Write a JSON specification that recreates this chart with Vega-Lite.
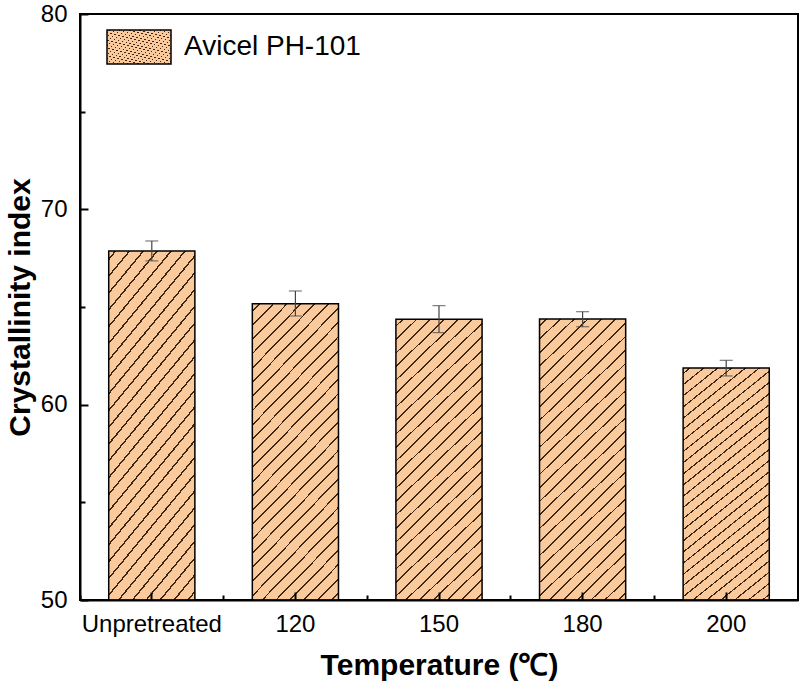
{
  "$schema": "https://vega.github.io/schema/vega-lite/v6.json",
  "autosize": {"type": "none"},
  "width": 718,
  "height": 586,
  "padding": {"left": 80, "top": 14, "right": 6, "bottom": 87},
  "background": "white",
  "config": {
    "view": {"stroke": "black", "strokeWidth": 2},
    "font": "Liberation Sans",
    "axis": {"domainColor": "black", "domainWidth": 2, "tickColor": "black", "tickWidth": 2, "labelColor": "black", "titleColor": "black", "grid": false, "labelFont": "Liberation Sans", "titleFont": "Liberation Sans"}
  },
  "data": {
    "values": [
      {"temp": "Unpretreated", "ci": 67.87, "lo": 67.36, "hi": 68.38, "series": "Avicel PH-101"},
      {"temp": "120", "ci": 65.16, "lo": 64.54, "hi": 65.82, "series": "Avicel PH-101"},
      {"temp": "150", "ci": 64.37, "lo": 63.69, "hi": 65.07, "series": "Avicel PH-101"},
      {"temp": "180", "ci": 64.39, "lo": 63.99, "hi": 64.76, "series": "Avicel PH-101"},
      {"temp": "200", "ci": 61.88, "lo": 61.47, "hi": 62.27, "series": "Avicel PH-101"}
    ]
  },
  "resolve": {"axis": {"x": "independent", "y": "independent"}},
  "layer": [
    {
      "mark": {"type": "bar", "strokeWidth": 1.5, "fillOpacity": 1,
        "fill": {"gradient": "linear", "x1": 0, "y1": 0, "x2": 0.356, "y2": 1.1923, "stops": [
              {"offset": 0, "color": "#FAC99C"},
              {"offset": 0.0160, "color": "#FAC99C"}, {"offset": 0.0160, "color": "#3b2613"}, {"offset": 0.0210, "color": "#3b2613"}, {"offset": 0.0210, "color": "#FAC99C"},
              {"offset": 0.0531, "color": "#FAC99C"}, {"offset": 0.0531, "color": "#3b2613"}, {"offset": 0.0581, "color": "#3b2613"}, {"offset": 0.0581, "color": "#FAC99C"},
              {"offset": 0.0901, "color": "#FAC99C"}, {"offset": 0.0901, "color": "#3b2613"}, {"offset": 0.0951, "color": "#3b2613"}, {"offset": 0.0951, "color": "#FAC99C"},
              {"offset": 0.1271, "color": "#FAC99C"}, {"offset": 0.1271, "color": "#3b2613"}, {"offset": 0.1321, "color": "#3b2613"}, {"offset": 0.1321, "color": "#FAC99C"},
              {"offset": 0.1642, "color": "#FAC99C"}, {"offset": 0.1642, "color": "#3b2613"}, {"offset": 0.1692, "color": "#3b2613"}, {"offset": 0.1692, "color": "#FAC99C"},
              {"offset": 0.2012, "color": "#FAC99C"}, {"offset": 0.2012, "color": "#3b2613"}, {"offset": 0.2062, "color": "#3b2613"}, {"offset": 0.2062, "color": "#FAC99C"},
              {"offset": 0.2382, "color": "#FAC99C"}, {"offset": 0.2382, "color": "#3b2613"}, {"offset": 0.2432, "color": "#3b2613"}, {"offset": 0.2432, "color": "#FAC99C"},
              {"offset": 0.2753, "color": "#FAC99C"}, {"offset": 0.2753, "color": "#3b2613"}, {"offset": 0.2803, "color": "#3b2613"}, {"offset": 0.2803, "color": "#FAC99C"},
              {"offset": 0.3123, "color": "#FAC99C"}, {"offset": 0.3123, "color": "#3b2613"}, {"offset": 0.3173, "color": "#3b2613"}, {"offset": 0.3173, "color": "#FAC99C"},
              {"offset": 0.3494, "color": "#FAC99C"}, {"offset": 0.3494, "color": "#3b2613"}, {"offset": 0.3544, "color": "#3b2613"}, {"offset": 0.3544, "color": "#FAC99C"},
              {"offset": 0.3864, "color": "#FAC99C"}, {"offset": 0.3864, "color": "#3b2613"}, {"offset": 0.3914, "color": "#3b2613"}, {"offset": 0.3914, "color": "#FAC99C"},
              {"offset": 0.4234, "color": "#FAC99C"}, {"offset": 0.4234, "color": "#3b2613"}, {"offset": 0.4284, "color": "#3b2613"}, {"offset": 0.4284, "color": "#FAC99C"},
              {"offset": 0.4605, "color": "#FAC99C"}, {"offset": 0.4605, "color": "#3b2613"}, {"offset": 0.4655, "color": "#3b2613"}, {"offset": 0.4655, "color": "#FAC99C"},
              {"offset": 0.4975, "color": "#FAC99C"}, {"offset": 0.4975, "color": "#3b2613"}, {"offset": 0.5025, "color": "#3b2613"}, {"offset": 0.5025, "color": "#FAC99C"},
              {"offset": 0.5345, "color": "#FAC99C"}, {"offset": 0.5345, "color": "#3b2613"}, {"offset": 0.5395, "color": "#3b2613"}, {"offset": 0.5395, "color": "#FAC99C"},
              {"offset": 0.5716, "color": "#FAC99C"}, {"offset": 0.5716, "color": "#3b2613"}, {"offset": 0.5766, "color": "#3b2613"}, {"offset": 0.5766, "color": "#FAC99C"},
              {"offset": 0.6086, "color": "#FAC99C"}, {"offset": 0.6086, "color": "#3b2613"}, {"offset": 0.6136, "color": "#3b2613"}, {"offset": 0.6136, "color": "#FAC99C"},
              {"offset": 0.6456, "color": "#FAC99C"}, {"offset": 0.6456, "color": "#3b2613"}, {"offset": 0.6506, "color": "#3b2613"}, {"offset": 0.6506, "color": "#FAC99C"},
              {"offset": 0.6827, "color": "#FAC99C"}, {"offset": 0.6827, "color": "#3b2613"}, {"offset": 0.6877, "color": "#3b2613"}, {"offset": 0.6877, "color": "#FAC99C"},
              {"offset": 0.7197, "color": "#FAC99C"}, {"offset": 0.7197, "color": "#3b2613"}, {"offset": 0.7247, "color": "#3b2613"}, {"offset": 0.7247, "color": "#FAC99C"},
              {"offset": 0.7568, "color": "#FAC99C"}, {"offset": 0.7568, "color": "#3b2613"}, {"offset": 0.7618, "color": "#3b2613"}, {"offset": 0.7618, "color": "#FAC99C"},
              {"offset": 0.7938, "color": "#FAC99C"}, {"offset": 0.7938, "color": "#3b2613"}, {"offset": 0.7988, "color": "#3b2613"}, {"offset": 0.7988, "color": "#FAC99C"},
              {"offset": 0.8308, "color": "#FAC99C"}, {"offset": 0.8308, "color": "#3b2613"}, {"offset": 0.8358, "color": "#3b2613"}, {"offset": 0.8358, "color": "#FAC99C"},
              {"offset": 0.8679, "color": "#FAC99C"}, {"offset": 0.8679, "color": "#3b2613"}, {"offset": 0.8729, "color": "#3b2613"}, {"offset": 0.8729, "color": "#FAC99C"},
              {"offset": 0.9049, "color": "#FAC99C"}, {"offset": 0.9049, "color": "#3b2613"}, {"offset": 0.9099, "color": "#3b2613"}, {"offset": 0.9099, "color": "#FAC99C"},
              {"offset": 0.9419, "color": "#FAC99C"}, {"offset": 0.9419, "color": "#3b2613"}, {"offset": 0.9469, "color": "#3b2613"}, {"offset": 0.9469, "color": "#FAC99C"},
              {"offset": 0.9790, "color": "#FAC99C"}, {"offset": 0.9790, "color": "#3b2613"}, {"offset": 0.9840, "color": "#3b2613"}, {"offset": 0.9840, "color": "#FAC99C"},
              {"offset": 1, "color": "#FAC99C"}
            ]}
      },
      "encoding": {
        "x": {
          "field": "temp", "type": "nominal", "sort": null,
          "scale": {"type": "band", "paddingInner": 0.4, "paddingOuter": 0.2},
          "axis": {"orient": "bottom", "zindex": 1, "title": "Temperature (℃)", "titleFontSize": 30, "titleFontWeight": "bold", "titlePadding": 14, "labelFontSize": 24, "labelPadding": 20, "labelAngle": 0, "tickSize": -8}
        },
        "y": {
          "field": "ci", "type": "quantitative",
          "scale": {"domain": [50, 80], "nice": false, "zero": false},
          "axis": {"orient": "left", "zindex": 1, "values": [50, 60, 70, 80], "title": "Crystallinity index", "titleFontSize": 30, "titleFontWeight": "bold", "titlePadding": 5, "labelFontSize": 24, "labelPadding": 21, "tickSize": -8}
        },
        "y2": {"datum": 50},
        "stroke": {
          "field": "series", "type": "nominal",
          "scale": {"range": ["black"]},
          "legend": {
            "orient": "none", "legendX": 26, "legendY": 0, "title": null, "padding": 0,
            "symbolType": "M-1,-0.53L1,-0.53L1,0.53L-1,0.53Z", "symbolSize": 4096,
            "symbolStrokeWidth": 1.5, "symbolOpacity": 1,
            "labelFontSize": 28, "labelFont": "Liberation Sans", "labelColor": "black", "labelOffset": 12, "labelLimit": 400
          }
        }
      }
    },
    {
      "mark": {"type": "errorbar", "ticks": {"size": 13}, "thickness": 1.2, "color": "#444444"},
      "encoding": {
        "x": {
          "field": "temp", "type": "nominal", "sort": null,
          "axis": {"orient": "bottom", "zindex": 1, "title": null, "labels": false, "domain": false, "tickSize": -5, "bandPosition": -0.3333}
        },
        "y": {
          "field": "lo", "type": "quantitative",
          "axis": {"orient": "left", "zindex": 1, "values": [55, 65, 75], "title": null, "labels": false, "domain": false, "tickSize": -5}
        },
        "y2": {"field": "hi"}
      }
    }
  ]
}
